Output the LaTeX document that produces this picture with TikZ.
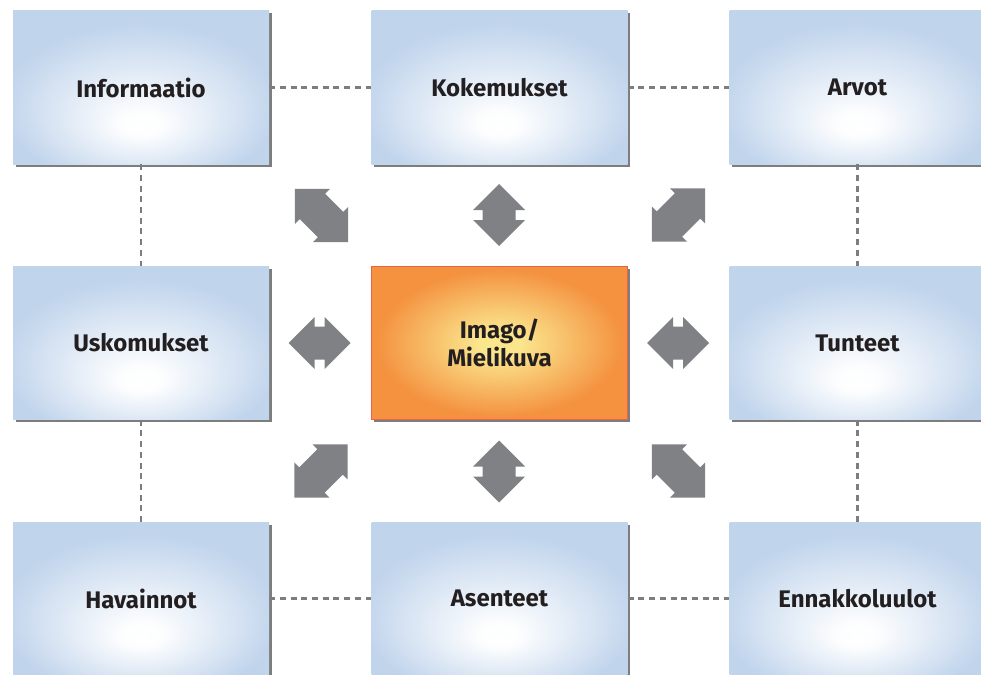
\documentclass[tikz,border=0pt]{standalone}
\usepackage{fontspec}
\setmainfont{Fira Sans}
\usetikzlibrary{shadows}

\definecolor{boxblue}{RGB}{192,212,236}
\definecolor{orin}{RGB}{251,230,142}
\definecolor{orout}{RGB}{244,146,64}
\definecolor{orline}{RGB}{232,100,72}
\definecolor{arrowgray}{RGB}{128,129,133}
\definecolor{linkgray}{RGB}{125,125,127}
\definecolor{textdark}{RGB}{35,31,32}

% soft light centre, low in each blue box
\pgfdeclareradialshading{bluebox}{\pgfpoint{0bp}{-13bp}}{%
  color(0bp)=(white); color(4bp)=(white!96!boxblue);
  color(27bp)=(boxblue); color(50bp)=(boxblue)}
% warm yellow core fading to orange
\pgfdeclareradialshading{orangebox}{\pgfpoint{0bp}{0bp}}{%
  color(0bp)=(orin); color(4bp)=(orin); color(24bp)=(orout); color(50bp)=(orout)}

\tikzset{
  cardbase/.style={rectangle, minimum width=256pt, minimum height=153pt,
    inner sep=0pt, text=textdark, align=center,
    font=\bfseries\fontsize{24}{28}\selectfont,
    drop shadow={shadow xshift=2.5pt, shadow yshift=-2.5pt,
      fill=black!60, opacity=.85}},
  infobox/.style={cardbase, shading=bluebox},
  corebox/.style={cardbase, shading=orangebox, draw=orline, line width=1.3pt},
  link/.style={draw=linkgray, line width=2.6pt, dash pattern=on 6pt off 4.7pt},
  % double-headed block arrow along the x axis
  dblarrow/.pic={
    \fill[arrowgray] (\tipd,0) -- (\tipd-\headl,\headw) -- (\tipd-\headl,\shaftw)
      -- (-\tipd+\headl,\shaftw) -- (-\tipd+\headl,\headw) -- (-\tipd,0)
      -- (-\tipd+\headl,-\headw) -- (-\tipd+\headl,-\shaftw)
      -- (\tipd-\headl,-\shaftw) -- (\tipd-\headl,-\headw) -- cycle;
  },
  straight/.style={/utils/exec={\def\tipd{31}\def\headl{26}\def\headw{26}\def\shaftw{16.5}}},
  diagonal/.style={/utils/exec={\def\tipd{37.5}\def\headl{24.7}\def\headw{24.7}\def\shaftw{18}}}
}

\begin{document}
\begin{tikzpicture}[x=1pt,y=-1pt]
\useasboundingbox (0,0) rectangle (981,674);
\clip (0,0) rectangle (981,674);

% the nine boxes
\node[infobox] (inf) at (141,87.5)    {Informaatio};
\node[infobox] (kok) at (499.5,87.5)  {Kokemukset};
\node[infobox] (arv) at (857.5,87.5)  {Arvot};
\node[infobox] (usk) at (141,343)     {Uskomukset};
\node[corebox] (ima) at (499.5,343)   {Imago/\\Mielikuva};
\node[infobox] (tun) at (857.5,343)   {Tunteet};
\node[infobox] (hav) at (141,598.5)   {Havainnot};
\node[infobox] (ase) at (499.5,598.5) {Asenteet};
\node[infobox] (enn) at (857.5,598.5) {Ennakkoluulot};

% dashed ring round the outer boxes
\draw[link] (inf.east)  -- (kok.west);
\draw[link] (kok.east)  -- (arv.west);
\draw[link] (hav.east)  -- (ase.west);
\draw[link] (ase.east)  -- (enn.west);
\draw[link] (inf.south) -- (usk.north);
\draw[link] (usk.south) -- (hav.north);
\draw[link] (arv.south) -- (tun.north);
\draw[link] (tun.south) -- (enn.north);

% two-way arrows round the centre
\pic[straight, rotate=90]  at (499,215)   {dblarrow};
\pic[straight, rotate=90]  at (499,471.5) {dblarrow};
\pic[straight]             at (319.5,343) {dblarrow};
\pic[straight]             at (678,343)   {dblarrow};
\pic[diagonal, rotate=-45] at (321.5,215.5) {dblarrow};
\pic[diagonal, rotate=45]  at (678.5,215)   {dblarrow};
\pic[diagonal, rotate=45]  at (321,471)     {dblarrow};
\pic[diagonal, rotate=-45] at (678.5,471)   {dblarrow};
\end{tikzpicture}
\end{document}
